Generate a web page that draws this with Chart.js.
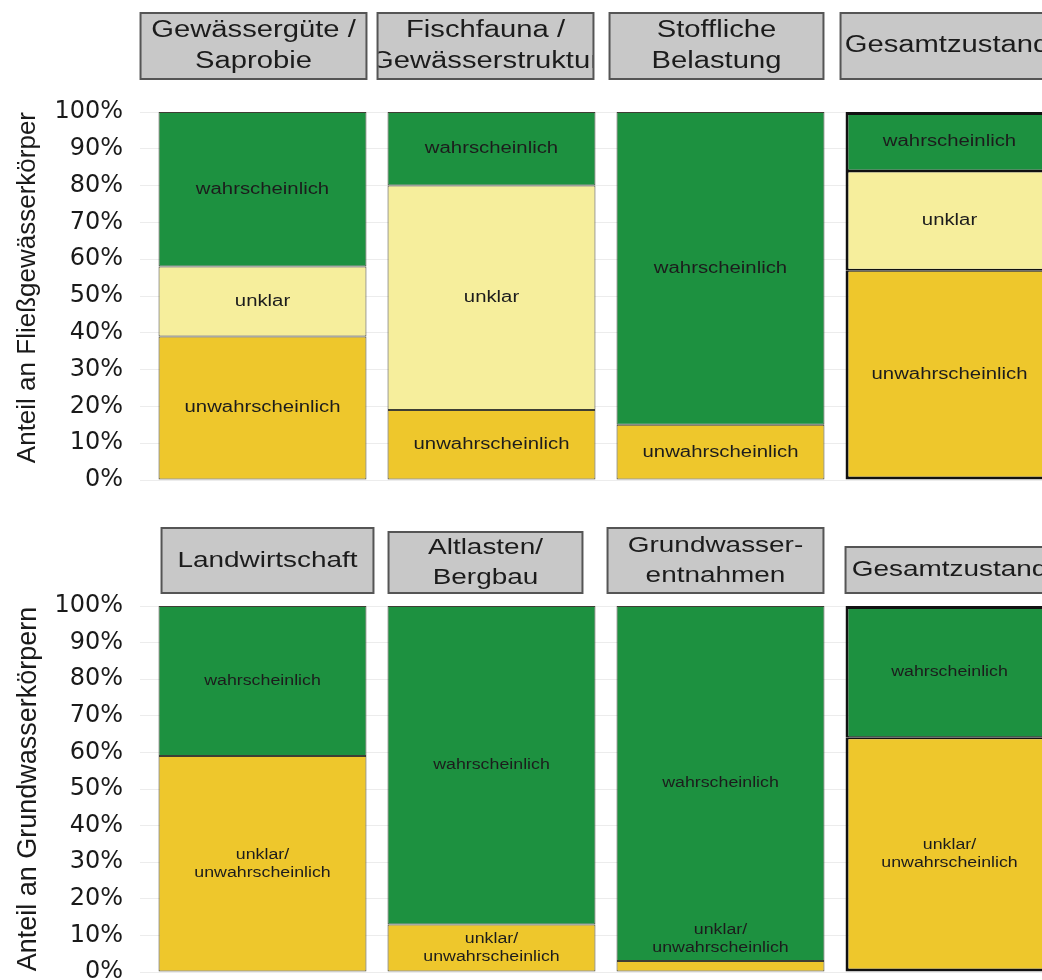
<!DOCTYPE html>
<html><head><meta charset="utf-8">
<script src="https://cdn.jsdelivr.net/npm/chart.js@4/dist/chart.umd.min.js"></script>
<style>
html,body{margin:0;padding:0;background:#fff;overflow:hidden;width:1042px;height:980px;position:relative}
canvas{position:absolute;left:0;display:block}
#c1{top:0}
#c2{top:495px}
</style></head><body>
<canvas id="c1" width="1072" height="495" style="width:1072px;height:495px"></canvas>
<canvas id="c2" width="1072" height="485" style="width:1072px;height:485px"></canvas>
<script>
// ---- data ----
const topCategories = ['Gewässergüte /\nSaprobie', 'Fischfauna /\nGewässerstruktur', 'Stoffliche\nBelastung', 'Gesamtzustand'];
const topUnwahrscheinlich = [39, 19, 15, 57];
const topUnklar = [19, 61, 0, 27];
const topWahrscheinlich = [42, 20, 85, 16];
const topSegmentNames = ['unwahrscheinlich', 'unklar', 'wahrscheinlich'];
const topAxisTitle = 'Anteil an Fließgewässerkörper';

const bottomCategories = ['Landwirtschaft', 'Altlasten/\nBergbau', 'Grundwasser-\nentnahmen', 'Gesamtzustand'];
const bottomUnklarUnwahrscheinlich = [59, 13, 3, 64];
const bottomWahrscheinlich = [41, 87, 97, 36];
const bottomSegmentNames = ['unklar/\nunwahrscheinlich', 'wahrscheinlich'];
const bottomAxisTitle = 'Anteil an Grundwasserkörpern';

const yTicks = [0, 10, 20, 30, 40, 50, 60, 70, 80, 90, 100];

// ---- styling ----
const GREEN = '#1d9140', LIGHT = '#f6ee9c', GOLD = '#eec72c';
const STRETCH = 1.27;
const TEXT = '#1c1c1c';
const TOTAL_INDEX = 3; // the "Gesamtzustand" panel gets a heavy frame

function stretchedText(ctx, str, x, y, font) {
  ctx.save();
  ctx.font = font;
  ctx.translate(x, y);
  ctx.scale(STRETCH, 1);
  ctx.fillText(str, 0, 0);
  ctx.restore();
}

const panelPlugin = {
  id: 'panelDecor',
  afterDatasetsDraw(chart, args, opts) {
    const ctx = chart.ctx;
    const area = chart.chartArea;
    chart.data.datasets.forEach((ds, di) => {
      const meta = chart.getDatasetMeta(di);
      meta.data.forEach((el, i) => {
        if (!ds.data[i]) return;
        const p = el.getProps(['x', 'y', 'base', 'width'], true);
        const lines = ds.label.split('\n');
        const lh = opts.labelLineHeight;
        const top = Math.min(p.y, p.base), bot = Math.max(p.y, p.base);
        let cy;
        if (bot - top < lines.length * lh + 6) {
          cy = top - 4 - lines.length * lh / 2;
        } else {
          cy = (top + bot) / 2;
        }
        ctx.save();
        ctx.fillStyle = TEXT;
        ctx.textAlign = 'center';
        ctx.textBaseline = 'middle';
        lines.forEach((ln, k) => {
          stretchedText(ctx, ln, p.x, cy + (k - (lines.length - 1) / 2) * lh, opts.labelFont);
        });
        ctx.restore();
      });
    });
    const meta0 = chart.getDatasetMeta(0);
    chart.data.labels.forEach((lab, i) => {
      const el = meta0.data[i];
      const p = el.getProps(['x', 'width'], true);
      const left = p.x - p.width / 2 + opts.headerLeft[i], right = p.x + p.width / 2 + opts.headerRight[i];
      const h = opts.headerHeights[i];
      const y1 = area.top - opts.headerGap, y0 = y1 - h;
      ctx.save();
      ctx.fillStyle = '#c8c8c8';
      ctx.strokeStyle = '#555';
      ctx.lineWidth = 2;
      ctx.fillRect(left, y0, right - left, h);
      ctx.strokeRect(left, y0, right - left, h);
      ctx.beginPath();
      ctx.rect(left + 1, y0 + 1, right - left - 2, h - 2);
      ctx.clip();
      ctx.fillStyle = TEXT;
      ctx.textAlign = 'center';
      ctx.textBaseline = 'middle';
      const lines = lab.split('\n');
      const cx = (left + right) / 2, cy = y0 + h / 2;
      lines.forEach((ln, k) => {
        stretchedText(ctx, ln, cx, cy + (k - (lines.length - 1) / 2) * opts.headerLineHeight, opts.headerFont);
      });
      ctx.restore();
    });
  }
};

function borderFor(c) {
  if (c.dataIndex !== TOTAL_INDEX) return 1;
  const n = c.chart.data.datasets.length;
  return {
    left: 3, right: 3,
    top: c.datasetIndex === n - 1 ? 3 : 1.5,
    bottom: c.datasetIndex === 0 ? 3 : 1.5
  };
}

function makeChart(id, labels, datasets, title, pad, decor, titleStyle) {
  return new Chart(document.getElementById(id), {
    type: 'bar',
    data: { labels: labels, datasets: datasets },
    options: {
      responsive: false,
      animation: false,
      devicePixelRatio: 1,
      layout: { padding: { top: pad.top, bottom: pad.bottom, left: 0, right: 8 } },
      plugins: {
        legend: { display: false },
        tooltip: { enabled: false },
        panelDecor: decor
      },
      datasets: { bar: { categoryPercentage: 1, barPercentage: 0.908 } },
      scales: {
        x: { stacked: true, display: false },
        y: {
          stacked: true,
          min: 0, max: 100,
          afterBuildTicks: (s) => { s.ticks = yTicks.map(v => ({ value: v })); },
          afterFit: (s) => { s.width = 148; s.paddingTop = 0; s.paddingBottom = 0; },
          border: { display: false },
          grid: { color: '#ececec', lineWidth: 1, tickLength: 8, drawTicks: true },
          ticks: {
            padding: 17,
            color: '#1a1a1a',
            font: { family: 'DejaVu Sans', size: 24 },
            callback: (v) => v + '%'
          },
          title: {
            display: true,
            text: title,
            align: titleStyle.align,
            color: '#1a1a1a',
            font: { family: 'Liberation Sans', size: titleStyle.size },
            padding: { top: 12, bottom: 0 }
          }
        }
      }
    },
    plugins: [panelPlugin]
  });
}

function barStyle(color) {
  return {
    backgroundColor: color,
    borderColor: (c) => c.dataIndex === TOTAL_INDEX ? '#111111' : '#3e3e34',
    borderWidth: borderFor,
    borderSkipped: false
  };
}

const c1 = makeChart('c1', topCategories, [
  Object.assign({ label: topSegmentNames[0], data: topUnwahrscheinlich }, barStyle(GOLD)),
  Object.assign({ label: topSegmentNames[1], data: topUnklar }, barStyle(LIGHT)),
  Object.assign({ label: topSegmentNames[2], data: topWahrscheinlich }, barStyle(GREEN))
], topAxisTitle, { top: 112, bottom: 15 },
  { labelFont: '16px "Liberation Sans"', labelLineHeight: 18, headerFont: '23px "Liberation Sans"', headerLineHeight: 31,
    headerHeights: [66, 66, 66, 66], headerGap: 33, headerLeft: [-18, -10, -7, -5], headerRight: [0, -2, -1, 0] },
  { align: 'end', size: 26 });

const c2 = makeChart('c2', bottomCategories, [
  Object.assign({ label: bottomSegmentNames[0], data: bottomUnklarUnwahrscheinlich }, barStyle(GOLD)),
  Object.assign({ label: bottomSegmentNames[1], data: bottomWahrscheinlich }, barStyle(GREEN))
], bottomAxisTitle, { top: 111, bottom: 8 },
  { labelFont: '14px "Liberation Sans"', labelLineHeight: 18, headerFont: '22px "Liberation Sans"', headerLineHeight: 30,
    headerHeights: [65, 61, 65, 46], headerGap: 13, headerLeft: [3, 1, -9, 0], headerRight: [7, -13, -1, 0] },
  { align: 'center', size: 27 });
</script>
</body></html>
